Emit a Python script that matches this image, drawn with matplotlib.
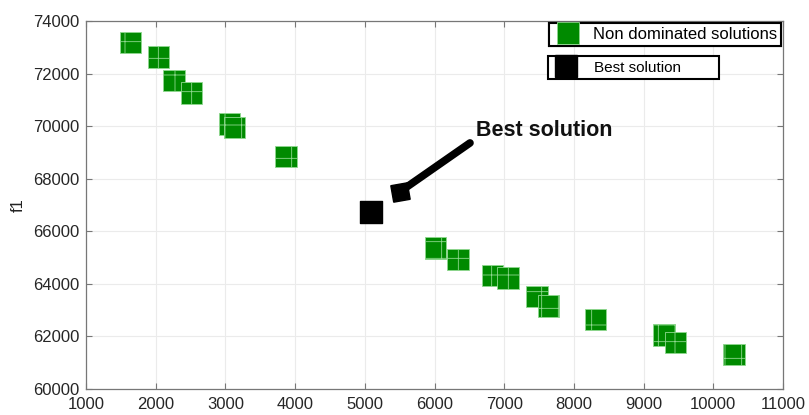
import matplotlib.pyplot as plt
from matplotlib.lines import Line2D

plt.rcParams['font.family'] = ['Liberation Sans', 'DejaVu Sans']
plt.rcParams['hatch.linewidth'] = 0.6

# non dominated solutions (f2, f1)
f2 = [1641, 2043, 2263, 2514, 3062, 3128, 3872,
      6014, 6339, 6833, 7052, 7473, 7636, 8312, 9295, 9457, 10294]
f1 = [73175, 72631, 71744, 71261, 70082, 69953, 68853,
      65358, 64921, 64320, 64232, 63518, 63149, 62652, 62049, 61764, 61319]

best_f2 = [5085]
best_f1 = [66716]

# annotation arrow: head, tail, text
arrow_head = (5505, 67507)
arrow_tail = (6509, 69361)
label_pos = (6600, 69830)

xticks = list(range(1000, 11001, 1000))
yticks = list(range(60000, 74001, 2000))

fig = plt.figure(figsize=(8.09, 4.15), dpi=100)
ax = fig.add_axes([0.1063, 0.0627, 0.8616, 0.8867])

green = '#008a00'
ax.scatter(f2, f1, s=240, marker='s', c=green, edgecolors='#8fd88f',
           linewidths=0.6, hatch='+', zorder=3)
ax.scatter(best_f2, best_f1, s=240, marker='s', c='k', zorder=3)

ax.annotate('', xy=arrow_head, xytext=arrow_tail,
            arrowprops=dict(arrowstyle='-', lw=5.5, color='k',
                            shrinkA=0, shrinkB=0), zorder=4)
ax.plot([arrow_head[0]], [arrow_head[1]], marker=(4, 0, 55), ms=17,
        color='k', zorder=5)
ax.text(label_pos[0], label_pos[1], 'Best solution', fontsize=15.5,
        fontweight='bold', va='center', ha='left', color='#111111')

ax.set_xlim(1000, 11000)
ax.set_ylim(60000, 74000)
ax.set_xticks(xticks)
ax.set_yticks(yticks)
ax.set_ylabel('f1', fontsize=12, color='#222222', labelpad=5)
ax.grid(True, color='#ebebeb', lw=0.8)
ax.set_axisbelow(True)
ax.tick_params(direction='in', top=True, right=True, length=4,
               color='#777777', labelsize=12, labelcolor='#262626')
ax.tick_params(axis='x', pad=6)
ax.tick_params(axis='y', pad=5)
for sp in ax.spines.values():
    sp.set_color('#777777')
    sp.set_linewidth(0.9)

h1 = Line2D([], [], ls='none', marker='s', ms=15.5, markerfacecolor=green,
            markeredgecolor='#8fd88f', markeredgewidth=0.6)
h2 = Line2D([], [], ls='none', marker='s', ms=15.5, color='k')

leg1 = fig.legend([h1], ['Non dominated solutions'], loc='upper right',
                  bbox_to_anchor=(781 / 809, 1 - 23 / 415), fontsize=12,
                  fancybox=False, edgecolor='k', framealpha=1,
                  borderpad=0.25, handletextpad=0.6, handlelength=1.8,
                  borderaxespad=0)
leg1.get_frame().set_linewidth(1.5)
leg2 = fig.legend([h2], ['Best solution        '], loc='upper left',
                  bbox_to_anchor=(548 / 809, 1 - 56 / 415), fontsize=11,
                  fancybox=False, edgecolor='k', framealpha=1,
                  borderpad=0.3, handletextpad=0.9, handlelength=1.8,
                  borderaxespad=0)
leg2.get_frame().set_linewidth(1.5)
fig.add_artist(leg1)

fig.savefig('out.png', dpi=100)
